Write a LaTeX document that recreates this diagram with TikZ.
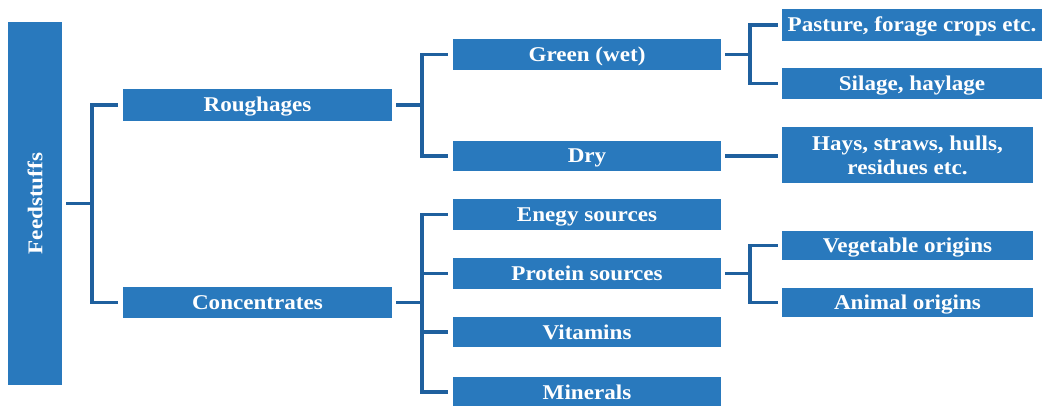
\documentclass[tikz,border=0pt]{standalone}
\usepackage{fontspec}
\setmainfont[FakeStretch=1.1]{Liberation Serif}
\usepackage{graphicx}
\definecolor{boxblue}{RGB}{41,121,189}
\definecolor{lineblue}{RGB}{31,96,158}
\begin{document}
\begin{tikzpicture}[x=1pt,y=-1pt,
  basebox/.style={fill=boxblue, draw=none, inner sep=0pt, text=white, align=center,
    font=\fontsize{21}{24}\selectfont\bfseries},
  box/.style={basebox, text height=16pt, text depth=2pt},
  conn/.style={draw=lineblue, line width=3.5pt, line join=miter}]
\useasboundingbox (0,0) rectangle (1047,406);
\fill[white] (0,0) rectangle (1047,406);
% level 0
\node[basebox, minimum width=54, minimum height=363] (feed) at (35,203.5) {\rotatebox{90}{Feedstuffs}};
% level 1
\node[box, minimum width=269, minimum height=32] (rough) at (257.5,105) {Roughages};
\node[box, minimum width=269, minimum height=31] (conc) at (257.5,302.5) {Concentrates};
% level 2
\node[box, minimum width=268, minimum height=31] (green) at (587,54.5) {Green (wet)};
\node[box, minimum width=268, minimum height=30] (dry) at (587,156) {Dry};
\node[box, minimum width=268, minimum height=31] (energy) at (587,214.5) {Enegy sources};
\node[box, minimum width=268, minimum height=31] (protein) at (587,273.5) {Protein sources};
\node[box, minimum width=268, minimum height=30] (vit) at (587,332) {Vitamins};
\node[box, minimum width=268, minimum height=30] (min) at (587,392) {Minerals};
% level 3
\node[box, minimum width=260, minimum height=32] (pasture) at (912,25) {Pasture, forage crops etc.};
\node[box, minimum width=260, minimum height=31] (silage) at (912,83.5) {Silage, haylage};
\node[basebox, minimum width=251, minimum height=56] (hays) at (907.5,155) {Hays, straws, hulls,\\residues etc.};
\node[box, minimum width=251, minimum height=29] (veg) at (907.5,245.5) {Vegetable origins};
\node[box, minimum width=251, minimum height=29] (animal) at (907.5,302.5) {Animal origins};
% junctions
\coordinate (j1) at ([xshift=30pt]feed.east);
\coordinate (j2) at ([xshift=30pt]rough.east);
\coordinate (j3) at ([xshift=30pt]conc.east);
\coordinate (j4) at ([xshift=29pt]green.east);
\coordinate (j5) at ([xshift=29pt]protein.east);
% feedstuffs
\draw[conn] ([xshift=4pt]feed.east) -- (j1);
\draw[conn] ([xshift=-5pt]rough.west) -| (j1) |- ([xshift=-5pt]conc.west);
% roughages
\draw[conn] ([xshift=4pt]rough.east) -- (j2);
\draw[conn] ([xshift=-5pt]green.west) -| (j2) |- ([xshift=-5pt]dry.west);
% concentrates
\draw[conn] ([xshift=4pt]conc.east) -- (j3);
\draw[conn] ([xshift=-5pt]energy.west) -| (j3) |- ([xshift=-5pt]min.west);
\draw[conn] (j3 |- protein.west) -- ([xshift=-5pt]protein.west);
\draw[conn] (j3 |- vit.west) -- ([xshift=-5pt]vit.west);
% green
\draw[conn] ([xshift=4pt]green.east) -- (j4);
\draw[conn] ([xshift=-4pt]pasture.west) -| (j4) |- ([xshift=-4pt]silage.west);
% dry
\draw[conn] ([xshift=4pt]dry.east) -- ([xshift=-4pt]hays.west |- dry.east);
% protein
\draw[conn] ([xshift=4pt]protein.east) -- (j5);
\draw[conn] ([xshift=-4pt]veg.west) -| (j5) |- ([xshift=-4pt]animal.west);
\end{tikzpicture}
\end{document}
